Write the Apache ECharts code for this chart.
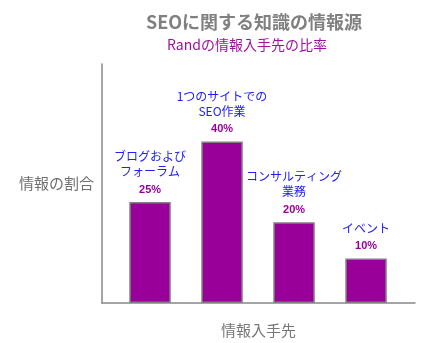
<!DOCTYPE html>
<html><head><meta charset="utf-8">
<script src="https://cdn.jsdelivr.net/npm/echarts@6/dist/echarts.min.js"></script>
<style>html,body{margin:0;padding:0;background:#fff}#c{width:434px;height:343px}</style>
</head><body><div id="c"></div>
<script>
var categories = ["ブログおよび\nフォーラム", "1つのサイトでの\nSEO作業", "コンサルティング\n業務", "イベント"];
var values = [25, 40, 20, 11];
var valueLabels = ["25%", "40%", "20%", "10%"];
var titleText = "SEOに関する知識の情報源";
var subtitleText = "Randの情報入手先の比率";
var yName = "情報の割合";
var xName = "情報入手先";

var font = '"Noto Sans CJK JP", sans-serif';
var chart = echarts.init(document.getElementById('c'), null, {renderer: 'canvas'});
chart.setOption({
  animation: false,
  graphic: [
    {type: 'text', x: 254, y: 22, style: {text: titleText, fill: '#808080', font: 'bold 18px ' + font, textAlign: 'center', textVerticalAlign: 'middle'}},
    {type: 'text', x: 247, y: 45, style: {text: subtitleText, fill: '#a010a0', font: '14px ' + font, textAlign: 'center', textVerticalAlign: 'middle'}}
  ],
  grid: {left: 102, right: 19, top: 64, bottom: 36},
  xAxis: {
    type: 'value', min: -0.667, max: 3.68,
    name: xName, nameLocation: 'middle', nameGap: 20,
    nameTextStyle: {color: '#777', fontSize: 15, fontFamily: font},
    axisLine: {show: true, onZero: false, lineStyle: {color: '#888', width: 1.5}},
    axisTick: {show: false}, axisLabel: {show: false}, splitLine: {show: false}
  },
  yAxis: {
    type: 'value', min: 0, max: 59.2,
    name: yName, nameLocation: 'middle', nameGap: 8, nameRotate: 0,
    nameTextStyle: {color: '#707070', fontSize: 15, fontFamily: font, align: 'right', verticalAlign: 'middle', padding: [0, 0, 6, 0]},
    axisLine: {show: true, onZero: false, lineStyle: {color: '#888', width: 1.5}},
    axisTick: {show: false}, axisLabel: {show: false}, splitLine: {show: false}
  },
  series: [{
    type: 'bar',
    barWidth: 41.5,
    data: values.map(function (v, i) { return [i, v]; }),
    itemStyle: {color: '#990099', borderColor: '#808080', borderWidth: 1.5},
    label: {
      show: true, position: 'top', distance: 2,
      formatter: function (p) {
        var lines = categories[p.dataIndex].split('\n').map(function (s) { return '{n|' + s + '}'; });
        return lines.join('\n') + '\n{p|' + valueLabels[p.dataIndex] + '}';
      },
      rich: {
        n: {color: '#2020ff', fontSize: 12, fontFamily: font, lineHeight: 15, align: 'center'},
        p: {color: '#990099', fontSize: 11, fontWeight: 'bold', fontFamily: 'Liberation Sans, Arial, sans-serif', lineHeight: 21, align: 'center'}
      }
    }
  }]
});
</script></body></html>
